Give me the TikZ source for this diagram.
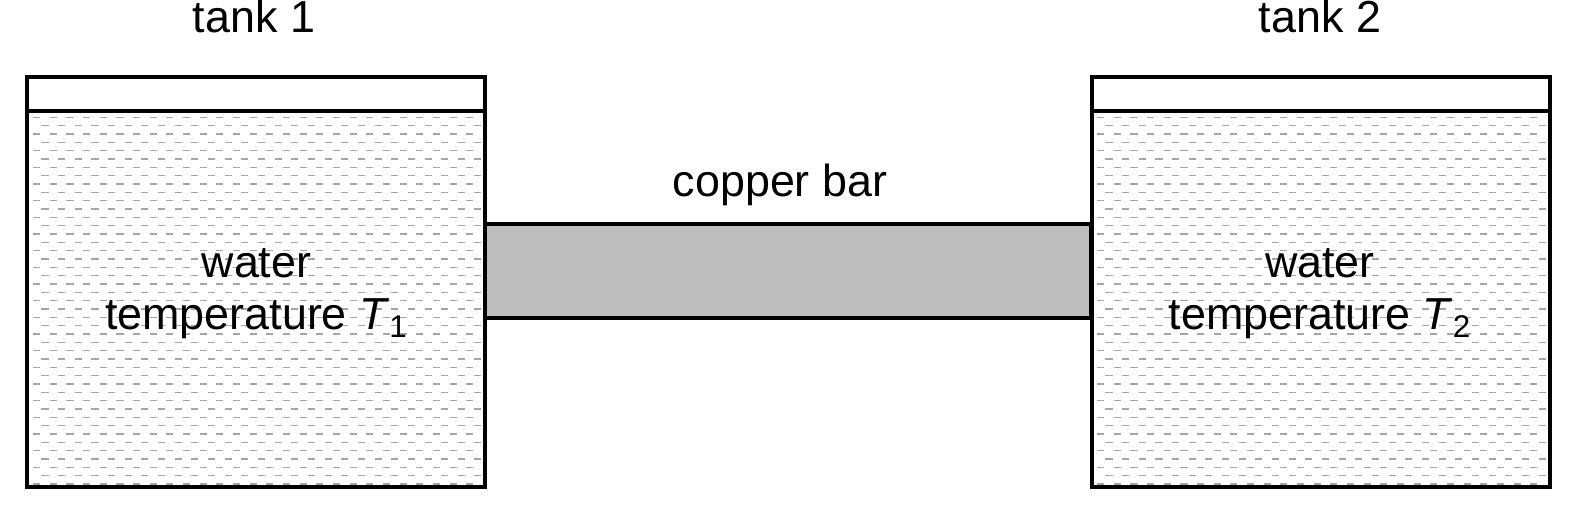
\documentclass[tikz,border=0pt]{standalone}
\usepackage{fontspec}
\setmainfont{Liberation Sans}
\usetikzlibrary{positioning}
\definecolor{bargray}{RGB}{189,190,192}
\definecolor{ripplegray}{RGB}{165,165,165}

\begin{document}
\begin{tikzpicture}[
  x=0.5bp, y=-0.5bp,
  line width=2bp,
  tanktext/.style={font=\fontsize{22.5}{27}\selectfont, inner sep=0pt, anchor=base},
  tankbox/.style={draw, line width=2bp, minimum width=229bp, minimum height=205bp, inner sep=0pt},
  ripple/.style={draw=ripplegray, line width=0.7bp, dash pattern=on 3.6bp off 4.73bp}
]
\useasboundingbox (0,0) rectangle (1577,515);

% copper bar
\draw[fill=bargray] (485,223.7) rectangle (1091,318);

% water surface lines
\foreach \xa/\xb in {29/483, 1093/1548}
  \foreach \k in {0,...,44} {
    \pgfmathsetmacro{\yy}{117.3+8.333*\k}
    \pgfmathsetmacro{\ph}{mod(\k,2)*4.17}
    \draw[ripple, dash phase=\ph bp] (\xa+4,\yy) -- (\xb-2,\yy);
  }

% tanks
\node[tankbox] (tank1) at (256,282) {};
\node[tankbox] (tank2) at (1320.5,282) {};
\draw (tank1.west |- 0,111.5) -- (tank1.east |- 0,111.5);
\draw (tank2.west |- 0,111.5) -- (tank2.east |- 0,111.5);

% labels
\node[tanktext] (name1) at (254,33) {tank 1};
\node[tanktext] (name2) at (1320,33) {tank 2};
\node[tanktext] (bar) at (780,197) {copper bar};
\node[tanktext] (water1) at (256.5,278) {water};
\node[tanktext] (temp1) at (256.5,330) {temperature \textit{T}\textsubscript{1}};
\node[tanktext] (water2) at (1320,278) {water};
\node[tanktext] (temp2) at (1320,330) {temperature \textit{T}\textsubscript{2}};
\end{tikzpicture}
\end{document}
